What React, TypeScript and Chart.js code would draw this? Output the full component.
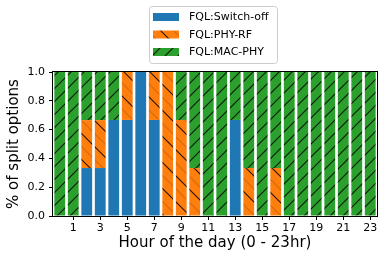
import React, { useEffect, useRef } from "react";
import { Chart, registerables } from "chart.js";

Chart.register(...registerables);

const hours: string[] = ["0","1","2","3","4","5","6","7","8","9","10","11","12","13","14","15","16","17","18","19","20","21","22","23"];
const switchOff: number[] = [0,0,0.333,0.333,0.667,0.667,1,0.667,0,0,0,0,0,0.667,0,0,0,0,0,0,0,0,0,0];
const phyRf: number[] = [0,0,0.333,0.333,0,0.333,0,0.333,1,0.667,0.333,0,0,0,0.333,0,0.333,0,0,0,0,0,0,0];
const macPhy: number[] = [1,1,0.334,0.334,0.333,0,0,0,0,0.333,0.667,1,1,0.333,0.667,1,0.667,1,1,1,1,1,1,1];
const seriesNames: string[] = ["FQL:Switch-off", "FQL:PHY-RF", "FQL:MAC-PHY"];
const yTicks: number[] = [0, 0.2, 0.4, 0.6, 0.8, 1.0];

const BLUE = "#1f77b4";
const ORANGE = "#ff7f0e";
const GREEN = "#2ca02c";
const FONT = "'DejaVu Sans', sans-serif";

function makeHatch(bg: string, p: number, dir: "/" | "\\", faintMid: boolean): CanvasPattern | string {
  const c = document.createElement("canvas");
  c.width = p;
  c.height = p;
  const g = c.getContext("2d");
  if (!g) return bg;
  g.fillStyle = bg;
  g.fillRect(0, 0, p, p);
  const line = (off: number, style: string) => {
    g.strokeStyle = style;
    g.lineWidth = 1.1;
    for (const k of [-p, 0, p]) {
      g.beginPath();
      if (dir === "/") {
        g.moveTo(k + off - 1, p + 1);
        g.lineTo(k + off + p + 1, -1);
      } else {
        g.moveTo(k + off - 1, -1);
        g.lineTo(k + off + p + 1, p + 1);
      }
      g.stroke();
    }
  };
  line(0, "rgba(0,0,0,0.85)");
  if (faintMid) line(p / 2, "rgba(80,40,0,0.25)");
  const pat = g.createPattern(c, "repeat");
  return pat || bg;
}

export default function App() {
  const ref = useRef<HTMLCanvasElement | null>(null);
  useEffect(() => {
    const canvas = ref.current;
    if (!canvas) return;
    const orangeHatch = makeHatch(ORANGE, 26, "\\", true);
    const greenHatch = makeHatch(GREEN, 13, "/", false);
    const fills = [BLUE, orangeHatch, greenHatch];

    const overlay = {
      id: "overlay",
      afterDraw(chart: any) {
        const ctx = chart.ctx as CanvasRenderingContext2D;
        const a = chart.chartArea;
        ctx.save();
        ctx.strokeStyle = "#000";
        ctx.lineWidth = 1;
        ctx.strokeRect(Math.round(a.left) - 0.5, Math.round(a.top) - 0.5, Math.round(a.right - a.left) + 1, Math.round(a.bottom - a.top) + 1);
        ctx.fillStyle = "#000";
        ctx.font = `15px ${FONT}`;
        ctx.textAlign = "center";
        ctx.textBaseline = "middle";
        ctx.fillText("Hour of the day (0 - 23hr)", (a.left + a.right) / 2, 243);
        ctx.save();
        ctx.translate(14, (a.top + a.bottom) / 2);
        ctx.rotate(-Math.PI / 2);
        ctx.fillText("% of split options", 0, 0);
        ctx.restore();
        const lx = 149.5, ly = 6.5, lw = 128, lh = 57, r = 3;
        ctx.beginPath();
        ctx.moveTo(lx + r, ly);
        ctx.lineTo(lx + lw - r, ly);
        ctx.quadraticCurveTo(lx + lw, ly, lx + lw, ly + r);
        ctx.lineTo(lx + lw, ly + lh - r);
        ctx.quadraticCurveTo(lx + lw, ly + lh, lx + lw - r, ly + lh);
        ctx.lineTo(lx + r, ly + lh);
        ctx.quadraticCurveTo(lx, ly + lh, lx, ly + lh - r);
        ctx.lineTo(lx, ly + r);
        ctx.quadraticCurveTo(lx, ly, lx + r, ly);
        ctx.closePath();
        ctx.fillStyle = "rgba(255,255,255,0.8)";
        ctx.fill();
        ctx.strokeStyle = "#cccccc";
        ctx.stroke();
        const rows = [17, 34.5, 52];
        ctx.font = `11px ${FONT}`;
        ctx.textAlign = "left";
        ctx.textBaseline = "middle";
        for (let i = 0; i < 3; i++) {
          ctx.fillStyle = fills[i] as any;
          ctx.fillRect(153, rows[i] - 4, 26, 8);
          ctx.fillStyle = "#000";
          ctx.fillText(seriesNames[i], 189, rows[i] + 0.5);
        }
        ctx.restore();
      },
    };

    const barOpts = { barPercentage: 0.8, categoryPercentage: 1, borderWidth: 0 };
    const chart = new Chart(canvas, {
      type: "bar",
      data: {
        labels: hours,
        datasets: [
          { label: seriesNames[0], data: switchOff, backgroundColor: fills[0] as any, ...barOpts },
          { label: seriesNames[1], data: phyRf, backgroundColor: fills[1] as any, ...barOpts },
          { label: seriesNames[2], data: macPhy, backgroundColor: fills[2] as any, ...barOpts },
        ],
      },
      options: {
        responsive: false,
        animation: false,
        devicePixelRatio: 1,
        layout: { padding: { left: 0, right: 11, top: 72, bottom: 0 } },
        plugins: { legend: { display: false }, tooltip: { enabled: false } },
        scales: {
          x: {
            stacked: true,
            offset: true,
            border: { display: false },
            grid: {
              offset: false,
              drawOnChartArea: false,
              tickLength: 4,
              color: (c: any) => (c.index % 2 === 1 ? "#000" : "rgba(0,0,0,0)"),
            },
            ticks: {
              autoSkip: false,
              maxRotation: 0,
              padding: 2,
              color: "#000",
              font: { family: FONT, size: 11 },
              callback: (_v: any, i: number) => (i % 2 === 1 ? hours[i] : ""),
            },
            afterFit: (s: any) => { s.height = 46; },
          },
          y: {
            stacked: true,
            min: 0,
            max: 1,
            border: { display: false },
            grid: { drawOnChartArea: false, tickLength: 4, color: "#000" },
            afterBuildTicks: (s: any) => { s.ticks = yTicks.map((v) => ({ value: v })); },
            ticks: {
              padding: 4,
              color: "#000",
              font: { family: FONT, size: 11 },
              callback: (v: any) => Number(v).toFixed(1),
            },
            afterFit: (s: any) => { s.width = 53; },
          },
        },
      },
      plugins: [overlay],
    });
    return () => chart.destroy();
  }, []);
  return (
    <div style={{ position: "fixed", left: 0, top: 0, width: 388, height: 262, background: "#fff" }}>
      <canvas ref={ref} width={388} height={262} style={{ width: 388, height: 262, display: "block" }} />
    </div>
  );
}
